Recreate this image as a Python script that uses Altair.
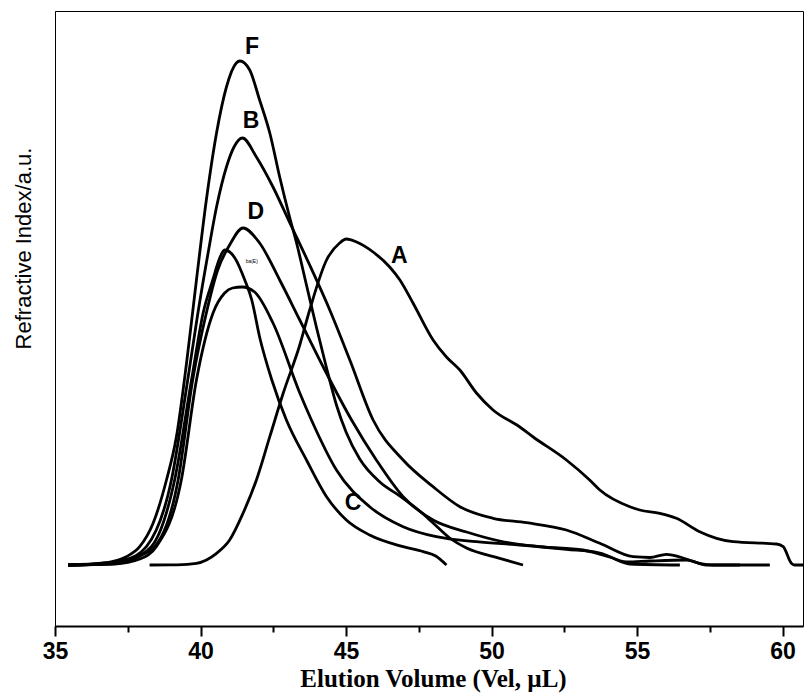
import altair as alt
import pandas as pd

# Elution volume (x) and refractive index signal (y) for each sample
F_x = [35.45, 36.2, 36.77, 37.45, 37.91, 38.37, 38.83, 39.17, 39.52, 39.86, 40.2, 40.55, 40.89, 41.23, 41.35, 41.69, 42.03, 42.38, 42.72, 43.06, 43.3, 43.64, 43.98, 44.33, 44.67, 45.0, 45.47, 46.16, 46.85, 47.53, 47.99, 48.56, 49.14, 50.28, 51.08]
F_y = [0, 0.05, 0.23, 0.83, 1.83, 4.17, 8.5, 12.8, 20.2, 28.5, 36.5, 43.2, 47.8, 50.2, 50.4, 49.5, 46.5, 43.2, 38.8, 34.8, 32.2, 28.0, 23.8, 19.7, 16.0, 13.3, 10.6, 8.3, 6.9, 5.4, 4.2, 2.7, 1.7, 0.67, 0]

B_x = [35.45, 36.54, 37.4, 38.14, 39.0, 39.56, 39.91, 40.26, 40.55, 40.89, 41.15, 41.44, 41.92, 42.49, 43.07, 43.75, 44.44, 45.13, 45.93, 46.96, 47.99, 48.91, 50.05, 51.2, 52.57, 53.72, 54.86, 55.44, 56.01, 56.47, 57.15, 57.6, 58.53]
B_y = [0, 0.1, 0.5, 1.83, 8.5, 18.5, 25.2, 31.2, 35.8, 39.8, 41.8, 42.7, 40.8, 37.8, 34.2, 30, 25.5, 20.5, 14.5, 10.5, 7.83, 5.83, 4.67, 4.23, 3.5, 2.17, 0.83, 0.75, 1.07, 0.8, 0.17, 0, 0]

D_x = [35.45, 36.88, 37.57, 37.98, 38.43, 39.23, 39.73, 40.2, 40.59, 41.0, 41.46, 42.03, 42.72, 43.41, 44.27, 45.19, 46.04, 46.96, 47.99, 49.14, 50.28, 51.66, 53.14, 54.06, 54.75, 56.47]
D_y = [0, 0.1, 0.4, 1.0, 1.83, 8.5, 18.5, 25.2, 29.5, 32, 33.7, 32.2, 28.5, 24.5, 19.5, 14.5, 10.5, 6.83, 4.5, 3.3, 2.4, 1.83, 1.5, 0.8, 0.1, 0]

E_x = [35.45, 36.71, 37.57, 38.31, 39.11, 39.69, 40.09, 40.42, 40.66, 40.83, 41.18, 41.52, 41.76, 42.03, 42.45, 42.95, 43.64, 44.33, 45.01, 45.81, 46.96, 47.65, 48.08, 48.45]
E_y = [0, 0.2, 0.6, 1.83, 8.5, 18.5, 25.2, 28.5, 30.7, 31.5, 30.7, 28.5, 26.5, 22.8, 18.5, 14.5, 10.5, 6.83, 4.5, 3.0, 1.83, 1.33, 0.9, 0]

C_x = [35.45, 37.05, 37.91, 38.48, 39.34, 39.86, 40.43, 40.83, 41.1, 41.43, 41.86, 42.49, 43.41, 43.81, 44.67, 45.81, 46.96, 48.1, 49.48, 50.97, 52.57, 53.72, 54.64, 55.44, 56.7, 57.38, 59.56]
C_y = [0, 0.1, 0.6, 1.83, 8.5, 18.5, 25.2, 27.2, 27.7, 27.8, 27.3, 24.2, 17.2, 14.5, 9.5, 5.83, 3.83, 2.83, 2.33, 2.0, 1.57, 1.2, 0.3, 0.4, 0.5, 0, 0]

A_x = [38.25, 39.2, 39.86, 40.55, 41.0, 41.46, 41.92, 42.38, 42.84, 43.41, 43.75, 44.33, 44.78, 45.01, 45.36, 45.93, 46.5, 46.85, 47.3, 47.99, 48.45, 48.91, 49.48, 50.05, 50.97, 51.43, 52.57, 53.37, 53.72, 54.75, 55.09, 55.78, 56.35, 57.15, 57.73, 58.3, 59.79, 60.02, 60.3, 60.4, 60.7]
A_y = [0, 0.02, 0.17, 1.17, 2.5, 5.17, 8.5, 12.83, 17.17, 22.0, 25.5, 30.5, 32.2, 32.6, 32.3, 31.3, 29.8, 28.5, 26.2, 22.5, 20.8, 19.5, 17.2, 15.5, 13.8, 12.8, 10.5, 8.5, 7.5, 5.83, 5.5, 5.17, 4.67, 3.33, 2.67, 2.33, 2.1, 1.83, 0.17, 0, 0]

label_text = ["F", "B", "D", "A", "C"]
label_x = [41.77, 41.74, 41.9, 46.83, 45.24]
label_y = [51.8, 44.4, 35.3, 30.9, 6.17]

small_text = ["ba(E)"]
small_x = [41.76]
small_y = [30.4]

x_ticks = [35, 37.5, 40, 42.5, 45, 47.5, 50, 52.5, 55, 57.5, 60]

rows = []
for name, xs, ys in [("A", A_x, A_y), ("B", B_x, B_y), ("C", C_x, C_y),
                     ("D", D_x, D_y), ("E", E_x, E_y), ("F", F_x, F_y)]:
    for i, (xv, yv) in enumerate(zip(xs, ys)):
        rows.append({"sample": name, "vel": xv, "ri": yv, "order": i})
df = pd.DataFrame(rows)

lab_df = pd.DataFrame({"vel": label_x, "ri": label_y, "txt": label_text})
small_df = pd.DataFrame({"vel": small_x, "ri": small_y, "txt": small_text})

xscale = alt.Scale(domain=[35, 60.7], nice=False, zero=False)
yscale = alt.Scale(domain=[-6.1, 55.4], nice=False, zero=False)

x_axis = alt.Axis(
    values=x_ticks,
    labelExpr="datum.value % 5 == 0 ? datum.label : ''",
    format="d",
    grid=False,
    labelFlush=False,
    labelOverlap=False,
    domainColor="black",
    domainWidth=2.2,
    tickColor="black",
    tickWidth=2,
    tickSize={"condition": {"test": "datum.value % 5 == 0", "value": 10}, "value": 6},
    labelFont="Liberation Sans",
    labelFontWeight="bold",
    labelFontSize=23,
    labelColor="black",
    labelPadding=4,
    title="Elution Volume (Vel, µL)",
    titleFont="Liberation Serif",
    titleFontWeight="bold",
    titleFontSize=25,
    titleColor="black",
    titleX=378,
    titleY=60,
    titleAlign="center",
    titleBaseline="alphabetic",
)

y_axis = alt.Axis(
    ticks=False,
    labels=False,
    grid=False,
    domainColor="black",
    domainWidth=1,
    title="Refractive Index/a.u.",
    titleFont="Liberation Sans",
    titleFontWeight="normal",
    titleFontSize=22,
    titleColor="black",
    titleAngle=270,
    titleX=-32,
    titleY=237,
    titleAlign="center",
    titleBaseline="middle",
)

lines = alt.Chart(df).mark_line(
    color="black", strokeWidth=2.8, interpolate="monotone", clip=True
).encode(
    x=alt.X("vel:Q", scale=xscale, axis=x_axis),
    y=alt.Y("ri:Q", scale=yscale, axis=y_axis),
    detail="sample:N",
    order="order:Q",
)

labels = alt.Chart(lab_df).mark_text(
    font="Liberation Sans", fontWeight="bold", fontSize=23, color="black",
    align="center", baseline="middle"
).encode(
    x=alt.X("vel:Q", scale=xscale),
    y=alt.Y("ri:Q", scale=yscale),
    text="txt:N",
)

small = alt.Chart(small_df).mark_text(
    font="Liberation Sans", fontSize=5, color="black", align="center", baseline="middle"
).encode(
    x=alt.X("vel:Q", scale=xscale),
    y=alt.Y("ri:Q", scale=yscale),
    text="txt:N",
)

chart = alt.layer(lines, labels, small).properties(
    width=748,
    height=615,
    autosize=alt.AutoSizeParams(type="none"),
    padding={"left": 55, "top": 11, "right": 1, "bottom": 70},
    background="white",
).configure_view(
    stroke="black", strokeWidth=1
)

chart.save("out.html", embed_options={"renderer": "svg", "actions": False})
